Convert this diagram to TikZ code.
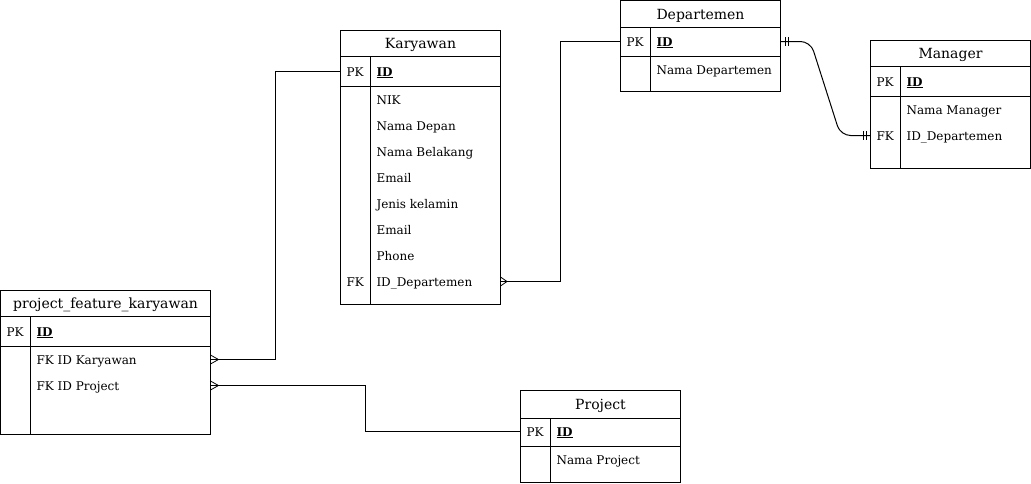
\documentclass[tikz,border=0pt]{standalone}
\usepackage{fontspec}
\setmainfont{DejaVu Serif}
\usetikzlibrary{calc}
\begin{document}
\begin{tikzpicture}[x=1pt,y=-1pt,line width=1pt,
  box/.style={draw,anchor=north west,inner sep=0pt,outer sep=0pt},
  ttl/.style={font=\fontsize{14}{16}\selectfont,inner sep=0pt,anchor=base,yshift=-5.2pt},
  att/.style={font=\fontsize{12}{14}\selectfont,anchor=base west,inner sep=0pt,yshift=-4.5pt},
  conn/.style={line width=1pt},
  fork/.style={line width=0.8pt},
]
\useasboundingbox (0,0) rectangle (1031,483);
\newcommand{\pkid}{\textbf{\underline{ID}}}

% ---------- Karyawan ----------
\node[box,minimum width=160pt,minimum height=274pt] (kar) at (340.5,30.5) {};
\node[ttl] (karT) at (420.5,43.5) {Karyawan};
\draw (340.5,56.5) -- (500.5,56.5) (340.5,86.5) -- (500.5,86.5) (370.5,56.5) -- (370.5,304.5);
\node[att] (karPK) at (346,71.5) {PK};
\node[att] (karID) at (376,71.5) {\pkid};
\node[att] (kar1) at (376,99.5) {NIK};
\node[att] (kar2) at (376,125.5) {Nama Depan};
\node[att] (kar3) at (376,151.5) {Nama Belakang};
\node[att] (kar4) at (376,177.5) {Email};
\node[att] (kar5) at (376,203.5) {Jenis kelamin};
\node[att] (kar6) at (376,229.5) {Email};
\node[att] (kar7) at (376,255.5) {Phone};
\node[att] (karFK) at (346,281.5) {FK};
\node[att] (kar8) at (376,281.5) {ID\_Departemen};
\coordinate (karPKL) at (340.5,71.5);
\coordinate (karFKR) at (500.5,281.5);

% ---------- Departemen ----------
\node[box,minimum width=160pt,minimum height=91pt] (dep) at (620.5,0.5) {};
\node[ttl] (depT) at (700.5,14) {Departemen};
\draw (620.5,27.5) -- (780.5,27.5) (620.5,56.5) -- (780.5,56.5) (650.5,27.5) -- (650.5,91.5);
\node[att] (depPK) at (626,41.5) {PK};
\node[att] (depID) at (656,41.5) {\pkid};
\node[att] (dep1) at (656,69.5) {Nama Departemen};
\coordinate (depL) at (620.5,41.5);
\coordinate (depR) at (780.5,41.5);

% ---------- Manager ----------
\node[box,minimum width=160pt,minimum height=128pt] (man) at (870.5,40.5) {};
\node[ttl] (manT) at (950.5,53.5) {Manager};
\draw (870.5,66.5) -- (1030.5,66.5) (870.5,96.5) -- (1030.5,96.5) (900.5,66.5) -- (900.5,168.5);
\node[att] (manPK) at (876,81.5) {PK};
\node[att] (manID) at (906,81.5) {\pkid};
\node[att] (man1) at (906,109.5) {Nama Manager};
\node[att] (manFK) at (876,135.5) {FK};
\node[att] (man2) at (906,135.5) {ID\_Departemen};
\coordinate (manL) at (870.5,135.5);

% ---------- project_feature_karyawan ----------
\node[box,minimum width=210pt,minimum height=144pt] (pfk) at (0.5,290.5) {};
\node[ttl] (pfkT) at (105.5,303.5) {project\_feature\_karyawan};
\draw (0.5,316.5) -- (210.5,316.5) (0.5,346.5) -- (210.5,346.5) (30.5,316.5) -- (30.5,434.5);
\node[att] (pfkPK) at (6,331.5) {PK};
\node[att] (pfkID) at (36,331.5) {\pkid};
\node[att] (pfk1) at (36,359.5) {FK ID Karyawan};
\node[att] (pfk2) at (36,385.5) {FK ID Project};
\coordinate (pfkR1) at (210.5,359.5);
\coordinate (pfkR2) at (210.5,385.5);

% ---------- Project ----------
\node[box,minimum width=160pt,minimum height=92pt] (prj) at (520.5,390.5) {};
\node[ttl] (prjT) at (600.5,404) {Project};
\draw (520.5,418.5) -- (680.5,418.5) (520.5,446.5) -- (680.5,446.5) (550.5,418.5) -- (550.5,482.5);
\node[att] (prjPK) at (526,431.5) {PK};
\node[att] (prjID) at (556,431.5) {\pkid};
\node[att] (prj1) at (556,459.5) {Nama Project};
\coordinate (prjL) at (520.5,431.5);

% ---------- connectors ----------
% Karyawan PK -> pfk (many)
\draw[conn] (karPKL) -| (275.5,359.5) -- (pfkR1);
\draw[fork] ($(pfkR1)+(8,0)$) -- ($(pfkR1)+(0,-4.5)$) ($(pfkR1)+(8,0)$) -- ($(pfkR1)+(0,4.5)$);
% Karyawan FK (many) -> Departemen
\draw[conn] (karFKR) -| (560.5,41.5) -- (depL);
\draw[fork] ($(karFKR)+(6.5,0)$) -- ($(karFKR)+(0,-4.5)$) ($(karFKR)+(6.5,0)$) -- ($(karFKR)+(0,4.5)$);
% pfk -> Project
\draw[conn] (pfkR2) -| (365.5,431.5) -- (prjL);
\draw[fork] ($(pfkR2)+(8,0)$) -- ($(pfkR2)+(0,-4.5)$) ($(pfkR2)+(8,0)$) -- ($(pfkR2)+(0,4.5)$);
% Departemen (one) -> Manager (one)
\draw[conn,rounded corners=10pt] (depR) -- (810.5,41.5) -- (840.5,135.5) -- (manL);
\draw[fork] ($(depR)+(4.5,-4.5)$) -- ($(depR)+(4.5,4.5)$) ($(depR)+(7.5,-4.5)$) -- ($(depR)+(7.5,4.5)$);
\draw[fork] ($(manL)+(-4.5,-4.5)$) -- ($(manL)+(-4.5,4.5)$) ($(manL)+(-7.5,-4.5)$) -- ($(manL)+(-7.5,4.5)$);
\end{tikzpicture}
\end{document}
